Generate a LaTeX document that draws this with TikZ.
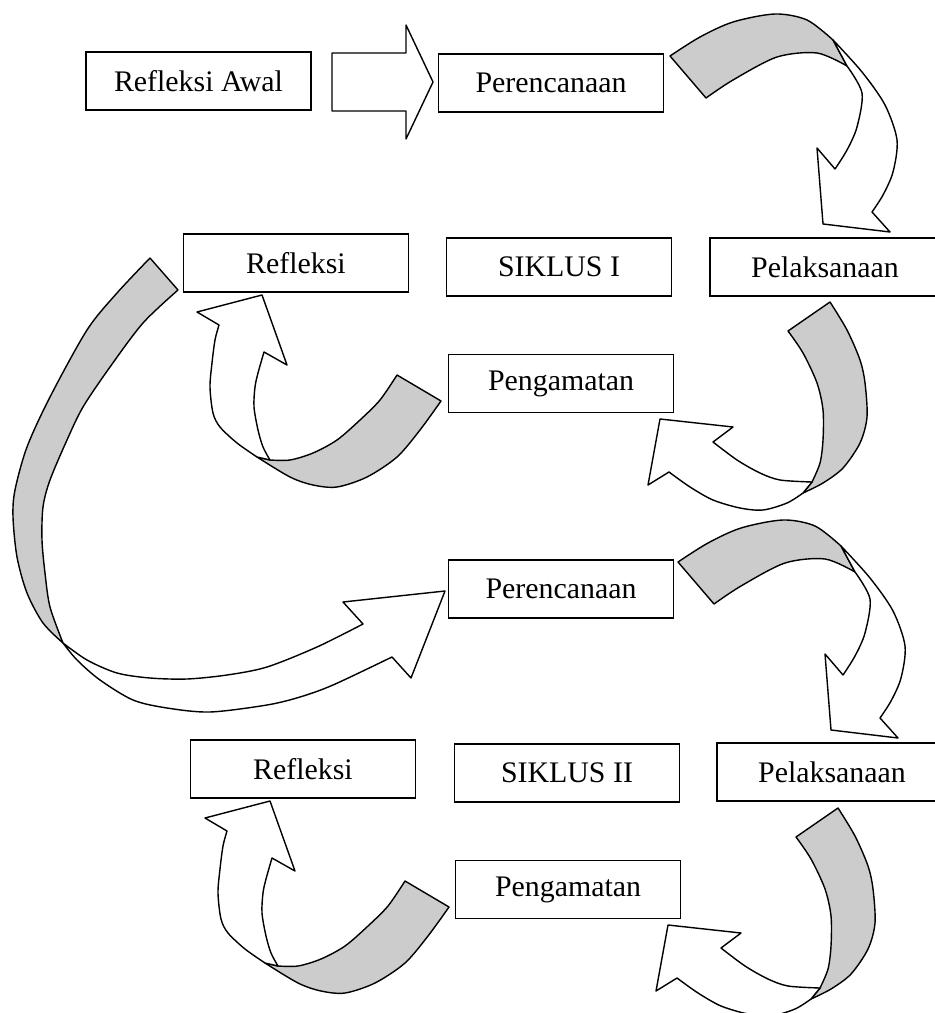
\documentclass[tikz,border=0pt]{standalone}
\usepackage{fontspec}
\setmainfont{Liberation Serif}

\begin{document}
\begin{tikzpicture}[x=0.02cm, y=-0.02cm,
    caja/.style={draw, line width=0.9pt, minimum width=4.5cm, minimum height=1.16cm, font=\fontsize{17}{20}\selectfont},
    banda/.style={draw, line width=0.8pt, fill=gray!40, line join=round},
    cinta/.style={draw, line width=0.8pt, fill=white, line join=round},
    ciclo/.pic={
      % Perencanaan -> Pelaksanaan
      \draw[banda] plot[smooth] coordinates {(670,56) (700,37) (733,22) (775,14) (807,20) (833,40)}
        -- plot[smooth] coordinates {(847,66) (817,53) (777,57) (733,80) (706,98)} -- cycle;
      \draw[cinta] plot[smooth] coordinates {(833,40) (862,72) (885,105) (897,140) (893,172) (883,195) (872,212)}
        -- (890,232) -- (823,224) -- (817,148)
        -- plot[smooth] coordinates {(835,169) (847,150) (857,127) (862,93) (847,66)} -- cycle;
      % Pelaksanaan -> Pengamatan
      \draw[banda] plot[smooth] coordinates {(830,302) (847,330) (860,360) (865,383) (867,417) (860,443) (843,468) (823,483) (803,493)}
        -- plot[smooth] coordinates {(812,482) (820,463) (823,440) (823,410) (817,383) (803,353) (788,331)} -- cycle;
      \draw[cinta] plot[smooth] coordinates {(812,482) (780,480) (760,473) (737,460) (713,442)}
        -- (733,427) -- (660,419) -- (648,485)
        -- plot[smooth] coordinates {(669,472) (690,487) (713,500) (740,508) (763,510) (787,503) (803,493)} -- cycle;
      % Pengamatan -> Refleksi
      \draw[banda] plot[smooth] coordinates {(397,375) (380,400) (360,420) (337,440) (313,453) (290,460) (270,460)}
        -- plot[smooth] coordinates {(257,457) (290,477) (313,485) (337,487) (367,477) (397,457) (420,430) (441,401)} -- cycle;
      \draw[cinta] plot[smooth] coordinates {(257,457) (237,443) (220,427) (213,413) (210,387) (212,363) (215,340) (219,325)}
        -- (197,312) -- (262,295) -- (287,365)
        -- plot[smooth] coordinates {(264,352) (258,373) (255,387) (254,407) (258,430) (263,447) (270,460)} -- cycle;
    }]
  \useasboundingbox (0,0) rectangle (934,1013);

  % Cajas
  \node[caja](awal) at (198.5,81) {Refleksi Awal};
  \node[caja](ren1) at (551,83) {Perencanaan};
  \node[caja](ref1) at (296,263) {Refleksi};
  \node[caja](sik1) at (559,267) {SIKLUS I};
  \node[caja, minimum width=4.6cm](pel1) at (825,267) {Pelaksanaan};
  \node[caja](amt1) at (561,383.5) {Pengamatan};
  \node[caja](ren2) at (561,589) {Perencanaan};
  \node[caja](ref2) at (303,769) {Refleksi};
  \node[caja](sik2) at (567,773) {SIKLUS II};
  \node[caja, minimum width=4.6cm](pel2) at (832,772) {Pelaksanaan};
  \node[caja](amt2) at (568,889.5) {Pengamatan};

  % Flechas
  \draw[cinta] (332,53) -- (406,53) -- (406,25) -- (433,82) -- (406,139) -- (406,111) -- (332,111) -- cycle;
  \pic at (0,0) {ciclo};
  \pic at (8,506) {ciclo};
  % Refleksi -> Perencanaan
  \draw[banda] plot[smooth] coordinates {(150,258) (117,293) (87,330) (50,397) (27,447) (15,490) (13,517) (17,557) (27,593) (43,623) (63,643)}
    -- plot[smooth] coordinates {(63,643) (50,607) (45,573) (42,540) (43,507) (50,480) (67,440) (83,407) (110,367) (143,323) (178,290)} -- cycle;
  \draw[cinta] plot[smooth] coordinates {(63,643) (87,660) (117,673) (150,678) (187,679) (227,675) (267,667) (317,647) (363,624)}
    -- (343,602) -- (445,591) -- (411,678)
    -- plot[smooth] coordinates {(392,657) (333,685) (300,697) (267,705) (210,712) (167,708) (133,700) (100,680) (77,660) (63,643)} -- cycle;
\end{tikzpicture}
\end{document}
